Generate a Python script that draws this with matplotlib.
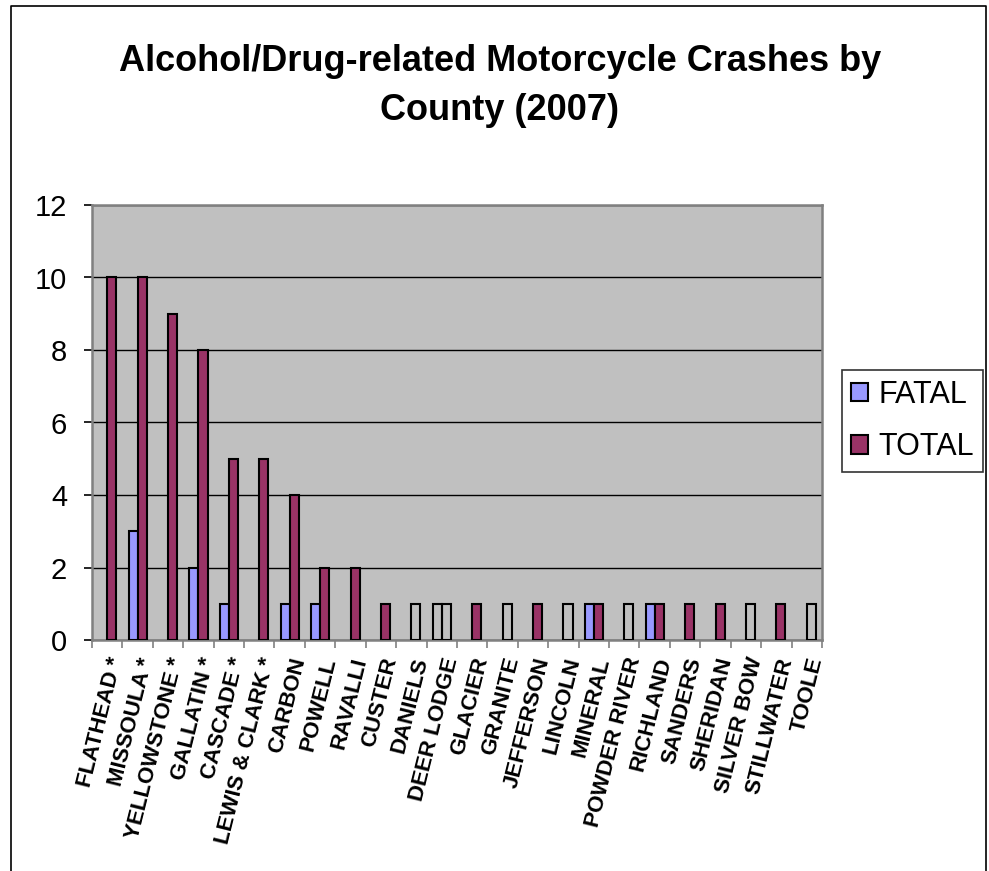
import matplotlib
matplotlib.use("Agg")
import matplotlib.pyplot as plt
import numpy as np
from matplotlib.lines import Line2D
from matplotlib.patches import Patch

counties = ["FLATHEAD *", "MISSOULA *", "YELLOWSTONE *", "GALLATIN *", "CASCADE *",
            "LEWIS & CLARK *", "CARBON", "POWELL", "RAVALLI", "CUSTER", "DANIELS",
            "DEER LODGE", "GLACIER", "GRANITE", "JEFFERSON", "LINCOLN", "MINERAL",
            "POWDER RIVER", "RICHLAND", "SANDERS", "SHERIDAN", "SILVER BOW",
            "STILLWATER", "TOOLE"]
fatal = [0, 3, 0, 2, 1, 0, 1, 1, 0, 0, 0, 1, 0, 0, 0, 0, 1, 0, 1, 0, 0, 0, 0, 0]
total = [10, 10, 9, 8, 5, 5, 4, 2, 2, 1, 1, 1, 1, 1, 1, 1, 1, 1, 1, 1, 1, 1, 1, 1]
# bars drawn without fill in the original chart
hollow_fatal = ["DEER LODGE"]
hollow_total = ["DANIELS", "DEER LODGE", "GRANITE", "LINCOLN", "POWDER RIVER",
                "SILVER BOW", "TOOLE"]
y_ticks = [0, 2, 4, 6, 8, 10, 12]

FATAL_C = "#9999FF"
TOTAL_C = "#993366"

plt.rcParams['font.family'] = ['Liberation Sans', 'DejaVu Sans']

fig = plt.figure(figsize=(9.89, 8.71), dpi=100)
W, H = 989, 871
ax = fig.add_axes([92 / W, 1 - 640 / H, (822 - 92) / W, (640 - 205) / H])
ax.set_facecolor("#C0C0C0")

x = np.arange(len(counties))
bw = 0.3
fc_f = ["none" if c in hollow_fatal else FATAL_C for c in counties]
fc_t = ["none" if c in hollow_total else TOTAL_C for c in counties]
lw_f = [1.5 if v > 0 else 0 for v in fatal]
lw_t = [1.5 if v > 0 else 0 for v in total]
ax.bar(x - bw / 2, fatal, width=bw, color=fc_f, edgecolor="black", linewidth=lw_f, zorder=3)
ax.bar(x + bw / 2, total, width=bw, color=fc_t, edgecolor="black", linewidth=lw_t, zorder=3)

ax.set_xlim(-0.5, len(counties) - 0.5)
ax.set_ylim(0, 12)
ax.set_yticks(y_ticks)
ax.set_yticklabels([str(t) for t in y_ticks], fontsize=21)
ax.yaxis.grid(True, color="black", linewidth=1.0, zorder=1)
ax.set_axisbelow(True)

ax.set_xticks(x)
ax.set_xticklabels(counties, rotation=76, ha="right", va="top", rotation_mode="anchor",
                   fontsize=16, fontweight="bold")
ax.tick_params(axis="x", which="major", length=0, pad=11)
ax.set_xticks(np.arange(-0.5, len(counties) + 0.5, 1), minor=True)
ax.tick_params(axis="x", which="minor", length=6, width=1.2, color="#808080", direction="out")
ax.tick_params(axis="y", length=6, width=1.2, color="black", direction="out", pad=12)

for s in ["top", "right", "left", "bottom"]:
    ax.spines[s].set_color("#808080")
    ax.spines[s].set_linewidth(1.8)

fig.text(500 / W, 1 - 86 / H, "Alcohol/Drug-related Motorcycle Crashes by\nCounty (2007)",
         ha="center", va="center", fontsize=26, fontweight="bold", linespacing=1.55)

handles = [Patch(facecolor=FATAL_C, edgecolor="black", linewidth=1.5, label="FATAL"),
           Patch(facecolor=TOTAL_C, edgecolor="black", linewidth=1.5, label="TOTAL")]
leg = fig.legend(handles=handles, loc="center left", bbox_to_anchor=(842 / W, 1 - 421 / H),
                 fontsize=22, frameon=True, fancybox=False, edgecolor="black",
                 handlelength=0.55, handleheight=0.55, handletextpad=0.35,
                 labelspacing=0.75, borderpad=0.3, borderaxespad=0)
leg.get_frame().set_linewidth(1.2)

# outer chart border
xl, xr, yt = 11 / W, 986 / W, 1 - 6 / H
fig.add_artist(Line2D([xl, xl, xr, xr], [0, yt, yt, 0], color="black", linewidth=1.2,
                      transform=fig.transFigure))

fig.savefig("out.png", dpi=100)
